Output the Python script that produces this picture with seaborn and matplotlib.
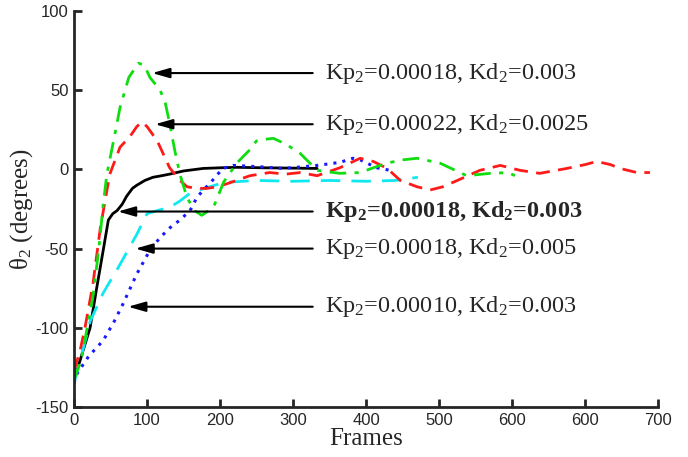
import matplotlib
matplotlib.use('Agg')
import matplotlib.pyplot as plt
import seaborn as sns

# series (frames, degrees)
red_x = [0, 8, 15, 26, 36, 49, 63, 77, 86, 93, 100, 114, 131, 145, 155, 168, 182, 196, 210, 241,
         268, 290, 310, 333, 364, 392, 410, 429, 447, 470, 488, 505, 525, 556, 584, 611, 638, 675,
         700, 716, 735, 748, 771, 789]
red_y = [-127, -115, -100, -72, -37, -3, 14, 21, 27, 30, 27, 18, 1, -7, -11, -12, -12, -11, -9, -4,
         -2, -3, -2, -4, 1, 7, 5, 0.6, -7, -11, -13, -11, -7, -0.6, 2.5, -0.6, -2.5, 0.6,
         3, 5, 3, 0.6, -2, -2]

green_x = [0, 10, 26, 34, 40, 45, 55, 63, 75, 88, 96, 104, 118, 125, 131, 138, 145, 155, 165, 175,
           191, 205, 223, 240, 250, 262, 273, 290, 310, 333, 364, 392, 410, 429, 450, 470, 501, 538,
           570, 595, 604]
green_y = [-133, -120, -80, -50, -22, -3, 20, 39, 58, 67, 66, 58, 50, 42, 29, 12, -3, -18, -26, -29,
           -24, -8, 4, 12, 18, 19, 19.6, 16, 10, -0.6, -2.5, -2, 1, 4, 6, 7, 4, -4,
           -2.5, -2, -4]

black_x = [0, 8, 22, 31, 40, 47, 53, 59, 66, 72, 80, 86, 97, 108, 120, 131, 150, 177, 200, 223,
           260, 300, 333]
black_y = [-133, -121, -100, -75, -51, -32, -28, -26, -22, -17, -12, -10, -7, -5, -4, -3, -1, 0.6, 1, 1.3,
           1, 0.8, 0.6]

cyan_x = [0, 10, 22, 40, 63, 86, 100, 114, 131, 145, 159, 172, 186, 200, 214, 250, 300, 350, 400,
          440, 471]
cyan_y = [-135, -118, -96, -78, -60, -41, -28, -26, -24, -20, -15, -13, -11, -9, -8, -7, -7.5, -7, -7.5,
          -7, -5]

blue_x = [0, 4, 20, 40, 55, 67, 86, 104, 118, 131, 145, 159, 168, 177, 186, 195, 204, 218, 240, 260,
          286, 310, 333, 364, 382, 392, 401, 415, 433]
blue_y = [-135, -129, -118, -108, -96, -85, -66, -51, -43, -37, -32, -26, -18, -13, -9, -4, 0.6, 2.5, 2, 1.5,
          0.6, 1.5, 2.5, 4.4, 7, 6, 4, 1, -0.6]

labels = ['Kp$_2$=0.00018, Kd$_2$=0.003',
          'Kp$_2$=0.00022, Kd$_2$=0.0025',
          'Kp$_2$=0.00018, Kd$_2$=0.003',
          'Kp$_2$=0.00018, Kd$_2$=0.005',
          'Kp$_2$=0.00010, Kd$_2$=0.003']
arrow_tip_x = [107, 111, 60, 84, 74]
arrow_y = [60.8, 28.5, -26.6, -50, -86.7]

x_ticks = [0, 100, 200, 300, 400, 500, 600, 700, 800]
x_tick_labels = ['0', '100', '200', '300', '400', '500', '600', '600', '700']
y_ticks = [-150, -100, -50, 0, 50, 100]

sns.set_style('ticks')
plt.rcParams['font.family'] = ['Liberation Serif', 'DejaVu Serif']
plt.rcParams['mathtext.default'] = 'regular'
plt.rcParams['axes.unicode_minus'] = False

fig = plt.figure(figsize=(6.88, 4.57), dpi=100)
ax = fig.add_axes([0.1076, 0.1094, 0.8488, 0.8666])

sns.lineplot(x=black_x, y=black_y, ax=ax, color='black', lw=2, estimator=None)
sns.lineplot(x=cyan_x, y=cyan_y, ax=ax, color='#10e8f0', lw=2, estimator=None, linestyle=(0, (7, 4)))
sns.lineplot(x=blue_x, y=blue_y, ax=ax, color='#1a1aff', lw=2.2, estimator=None, linestyle=(0, (1, 2)))
sns.lineplot(x=red_x, y=red_y, ax=ax, color='#ff1a1a', lw=2, estimator=None, linestyle=(0, (5, 3)))
sns.lineplot(x=green_x, y=green_y, ax=ax, color='#10dd10', lw=2, estimator=None, linestyle=(0, (6, 3, 1.5, 3)))

for i, lab in enumerate(labels):
    ax.annotate('', xy=(arrow_tip_x[i], arrow_y[i]), xytext=(327, arrow_y[i]),
                arrowprops=dict(arrowstyle='-|>,head_length=0.7,head_width=0.2',
                                color='black', lw=1.5, mutation_scale=15,
                                shrinkA=0, shrinkB=0))
    ax.text(344, arrow_y[i], lab, fontsize=17.5, va='center', ha='left',
            fontweight='bold' if i == 2 else 'normal')

ax.set_xlim(0, 800)
ax.set_ylim(-150, 100)
ax.set_xticks(x_ticks)
ax.set_xticklabels(x_tick_labels)
ax.set_yticks(y_ticks)
for t in ax.get_xticklabels() + ax.get_yticklabels():
    t.set_family(['Liberation Sans', 'DejaVu Sans'])
    t.set_fontsize(12)
ax.tick_params(direction='in', length=6, width=2, pad=4)
for s in ['left', 'bottom']:
    ax.spines[s].set_linewidth(2)
sns.despine(ax=ax)

ax.set_xlabel('Frames', fontsize=18, labelpad=0)
ax.set_ylabel(r'$\theta_2$ (degrees)', fontsize=18, labelpad=0)

fig.savefig('out.png', dpi=100)
